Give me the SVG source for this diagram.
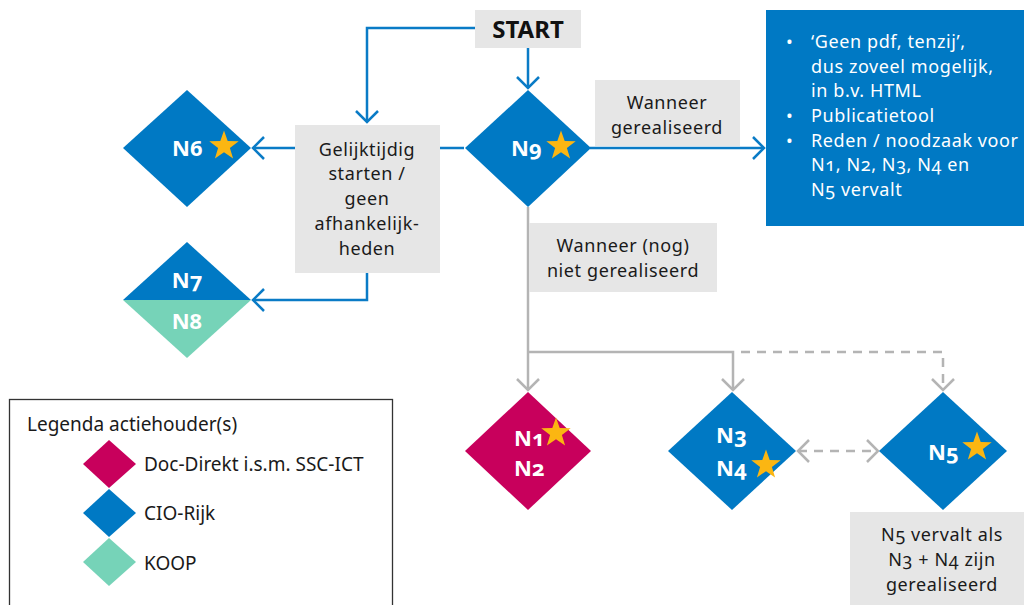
<svg xmlns="http://www.w3.org/2000/svg" width="1024" height="605" viewBox="0 0 1024 605">
<style>
text{font-family:"Noto Sans","Open Sans","Liberation Sans",sans-serif;font-variant-numeric:oldstyle-nums;font-feature-settings:"onum" 1;}
.lbl{font-size:18px;letter-spacing:0.6px;fill:#1a1a1a;text-anchor:middle;}
.nl{font-size:22px;font-weight:bold;fill:#fff;}
.wt{font-size:18px;letter-spacing:0.6px;fill:#fff;}
.lg{font-size:19px;fill:#1a1a1a;}
.gbox{fill:#e6e6e6;}
.blue{fill:#0079c4;}
.mag{fill:#c8005c;}
.mint{fill:#76d3b8;}
.star{fill:#fbb612;}
.cb{fill:none;stroke:#0a7bc6;stroke-width:2.5;}
.cg{fill:none;stroke:#b4b4b4;stroke-width:2.5;}
.dash{stroke-dasharray:9 7;}
</style>
<defs>
<marker id="ab" markerUnits="userSpaceOnUse" markerWidth="16" markerHeight="26" refX="13" refY="12" orient="auto-start-reverse"><path d="M2,1 L13,12 L2,23" fill="none" stroke="#0a7bc6" stroke-width="2.5"/></marker>
<marker id="ag" markerUnits="userSpaceOnUse" markerWidth="16" markerHeight="26" refX="13" refY="12" orient="auto-start-reverse"><path d="M2,1 L13,12 L2,23" fill="none" stroke="#b4b4b4" stroke-width="2.5"/></marker>
<path id="st" d="M0,-15.5 L3.7,-5 L14.7,-4.8 L5.9,1.9 L9.1,12.5 L0,6.2 L-9.1,12.5 L-5.9,1.9 L-14.7,-4.8 L-3.7,-5 Z"/>
</defs>

<g id="connectors">
<path class="cb" d="M475,28 H367 V122" marker-end="url(#ab)"/>
<path class="cb" d="M528,48 V88" marker-end="url(#ab)"/>
<path class="cb" d="M440,148 H464"/>
<path class="cb" d="M295,148 H253" marker-end="url(#ab)"/>
<path class="cb" d="M367,273 V300 H253" marker-end="url(#ab)"/>
<path class="cb" d="M590,148 H764" marker-end="url(#ab)"/>
<path class="cg" d="M528,207 V390" marker-end="url(#ag)"/>
<path class="cg" d="M528,352 H733 V390" marker-end="url(#ag)"/>
<path class="cg dash" d="M741,352 H943 V390" marker-end="url(#ag)"/>
<path class="cg dash" d="M798,451 H878" marker-start="url(#ag)" marker-end="url(#ag)"/>
</g>

<g id="start">
<rect class="gbox" x="475" y="10" width="106" height="38"/>
<text x="528" y="38" font-size="24" font-weight="bold" fill="#111" text-anchor="middle">START</text>
</g>

<g id="gelijktijdig">
<rect class="gbox" x="295" y="125" width="145" height="148"/>
<text class="lbl" x="367" y="156">Gelijktijdig</text>
<text class="lbl" x="367" y="180">starten /</text>
<text class="lbl" x="367" y="205">geen</text>
<text class="lbl" x="367" y="230">afhankelijk-</text>
<text class="lbl" x="367" y="255">heden</text>
</g>

<g id="wanneer-gerealiseerd">
<rect class="gbox" x="595" y="80" width="145" height="66"/>
<text class="lbl" x="667" y="109">Wanneer</text>
<text class="lbl" x="667" y="134">gerealiseerd</text>
</g>

<g id="wanneer-niet">
<rect class="gbox" x="529" y="223" width="188" height="69"/>
<text class="lbl" x="623" y="252">Wanneer (nog)</text>
<text class="lbl" x="623" y="277">niet gerealiseerd</text>
</g>

<g id="resultaat">
<rect class="blue" x="766" y="10" width="258" height="216"/>
<text class="wt" x="786" y="48">•</text>
<text class="wt" x="811" y="48">‘Geen pdf, tenzij’,</text>
<text class="wt" x="811" y="73">dus zoveel mogelijk,</text>
<text class="wt" x="811" y="97">in b.v. HTML</text>
<text class="wt" x="786" y="122">•</text>
<text class="wt" x="811" y="122">Publicatietool</text>
<text class="wt" x="786" y="147">•</text>
<text class="wt" x="811" y="147">Reden / noodzaak voor</text>
<text class="wt" x="811" y="171">N1, N2, N3, N4 en</text>
<text class="wt" x="811" y="196">N5 vervalt</text>
</g>

<g id="n6">
<polygon class="blue" points="187,90 251,148 187,207 123,148"/>
<text class="nl" x="172" y="156">N6</text>
<use href="#st" class="star" x="224" y="146"/>
</g>

<g id="n9">
<polygon class="blue" points="528,90 591,148 528,207 465,148"/>
<text class="nl" x="511" y="156">N9</text>
<use href="#st" class="star" x="561" y="146"/>
</g>

<g id="n7n8">
<polygon class="blue" points="187,242 251,300 123,300"/>
<polygon class="mint" points="123,300 251,300 187,358"/>
<text class="nl" x="187" y="288" text-anchor="middle">N7</text>
<text class="nl" x="187" y="329" text-anchor="middle">N8</text>
</g>

<g id="n1n2">
<polygon class="mag" points="528,392 591,451 528,510 465,451"/>
<text class="nl" x="514" y="446">N1</text>
<text class="nl" x="514" y="476">N2</text>
<use href="#st" class="star" x="556" y="433"/>
</g>

<g id="n3n4">
<polygon class="blue" points="732,392 796,451 732,510 668,451"/>
<text class="nl" x="716" y="443">N3</text>
<text class="nl" x="716" y="476">N4</text>
<use href="#st" class="star" x="766" y="465"/>
</g>

<g id="n5">
<polygon class="blue" points="943,392 1007,451 943,510 879,451"/>
<text class="nl" x="928" y="460">N5</text>
<use href="#st" class="star" x="977" y="447"/>
</g>

<g id="n5-note">
<rect class="gbox" x="850" y="512" width="174" height="93"/>
<text class="lbl" x="942" y="541">N5 vervalt als</text>
<text class="lbl" x="942" y="566">N3 + N4 zijn</text>
<text class="lbl" x="942" y="591">gerealiseerd</text>
</g>

<g id="legenda">
<rect x="9.5" y="399.5" width="383" height="215" fill="#fff" stroke="#333" stroke-width="1.3"/>
<text class="lg" x="27" y="431">Legenda actiehouder(s)</text>
<polygon class="mag" points="109,440 136,464 109,488 83,464"/>
<text class="lg" x="144" y="471">Doc-Direkt i.s.m. SSC-ICT</text>
<polygon class="blue" points="109,489 136,513 109,537 83,513"/>
<text class="lg" x="144" y="520">CIO-Rijk</text>
<polygon class="mint" points="109,538 136,562 109,586 83,562"/>
<text class="lg" x="144" y="570">KOOP</text>
</g>
</svg>
